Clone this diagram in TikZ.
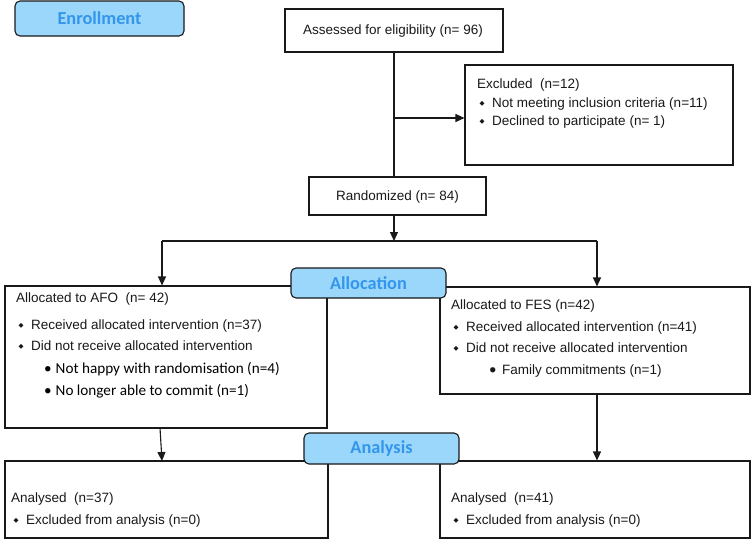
\documentclass[tikz,border=0pt]{standalone}
\usepackage{fontspec}
\setmainfont{Liberation Sans}
\newfontfamily\calfont{Carlito}
\newfontfamily\symf{DejaVu Sans}
\usetikzlibrary{arrows.meta}
\definecolor{phasefill}{RGB}{155,214,251}
\definecolor{phasetext}{RGB}{52,150,235}
\definecolor{linegray}{RGB}{25,25,25}
\newcommand\dia{\makebox[15pt][l]{\hspace{2.5pt}\raisebox{2pt}{\symf\fontsize{6.5}{7}\selectfont ◆}}}
\newcommand\rbul{\makebox[11.5pt][l]{•}}
\begin{document}
\begin{tikzpicture}[x=1pt,y=-1pt,
  box/.style={draw=linegray,line width=1.1pt,fill=white,inner sep=0pt},
  phase/.style={draw=linegray,line width=1.1pt,fill=phasefill,rounded corners=5pt,inner sep=0pt,
     text=phasetext,font=\calfont\bfseries\fontsize{18.3}{20}\selectfont},
  txt/.style={anchor=base west,inner sep=0pt,text=black!90,font=\fontsize{13.5}{15}\selectfont},
  ctxt/.style={inner sep=0pt,text=black!90,font=\fontsize{13.5}{15}\selectfont},
  ctx/.style={anchor=base west,inner sep=0pt,font=\calfont\fontsize{15.2}{17}\selectfont},
  arr/.style={draw=linegray,line width=1.1pt,-{Triangle[length=9pt,width=8pt]}},
  ln/.style={draw=linegray,line width=1.1pt}]
\useasboundingbox (0,0) rectangle (751,539);
\fill[white] (0,0) rectangle (751,539);

% boxes
\node[box,minimum width=218pt,minimum height=43pt] (assess) at (394,30.5) {};
\node[ctxt] (assessT) at (393,31) {Assessed for eligibility (n= 96)};
\node[box,minimum width=268pt,minimum height=100pt] (excl) at (599,115) {};
\node[box,minimum width=177pt,minimum height=38pt] (random) at (397.5,196) {};
\node[ctxt] (randomT) at (397.5,197) {Randomized (n= 84)};
\node[box,minimum width=322pt,minimum height=142pt] (afo) at (166,357) {};
\node[box,minimum width=310pt,minimum height=107pt] (fes) at (595,340.5) {};
\node[box,minimum width=323pt,minimum height=77pt] (anL) at (166.5,499.5) {};
\node[box,minimum width=310pt,minimum height=77pt] (anR) at (595,499.5) {};

% connectors
\coordinate (j1) at (394,118);
\coordinate (split) at (394,241);
\coordinate (splitL) at (162,241);
\coordinate (splitR) at (597,241);
\coordinate (aS) at (160,428);
\coordinate (aE) at (162,461);
\coordinate (fS) at (597,394);
\draw[ln] (assess.south -| j1) -- (random.north -| j1);
\draw[arr] (j1) -- (j1 -| excl.west);
\draw[arr] (random.south -| split) -- (split);
\draw[ln] (splitL) -- (splitR);
\draw[arr] (splitL) -- (splitL |- afo.north);
\draw[arr] (splitR) -- (splitR |- fes.north);
\draw[arr] (aS) -- (aE);
\draw[arr] (fS) -- (fS |- anR.north);

% texts
\node[txt] (e1) at (477,88) {Excluded\ \ (n=12)};
\node[txt] (e2) at (477,107) {\dia Not meeting inclusion criteria (n=11)};
\node[txt] (e3) at (477,125.5) {\dia Declined to participate (n= 1)};

\node[txt] (a1) at (16,302) {Allocated to AFO\ \ (n= 42)};
\node[txt] (a2) at (16,329) {\dia Received allocated intervention (n=37)};
\node[txt] (a3) at (16,350.5) {\dia Did not receive allocated intervention};
\node[ctx] (a4) at (44,373) {\rbul Not happy with randomisation (n=4)};
\node[ctx] (a5) at (44,395) {\rbul No longer able to commit (n=1)};

\node[txt] (f1) at (451,309) {Allocated to FES (n=42)};
\node[txt] (f2) at (451,331) {\dia Received allocated intervention (n=41)};
\node[txt] (f3) at (451,352) {\dia Did not receive allocated intervention};
\node[txt] (f4) at (489,374) {\makebox[13pt][l]{\calfont\fontsize{15}{17}\selectfont •}Family commitments (n=1)};

\node[txt] (l1) at (11,502) {Analysed\ \ (n=37)};
\node[txt] (l2) at (11,524) {\dia Excluded from analysis (n=0)};
\node[txt] (r1) at (451,502) {Analysed\ \ (n=41)};
\node[txt] (r2) at (451,524) {\dia Excluded from analysis (n=0)};

% phase labels
\node[phase,minimum width=169pt,minimum height=35pt] (enrol) at (99.5,18.5) {Enrollment};
\node[phase,minimum width=155pt,minimum height=30pt] (alloc) at (368.5,283) {Allocation};
\node[phase,minimum width=155pt,minimum height=31pt] (anal) at (381.5,448.5) {Analysis};
\end{tikzpicture}
\end{document}
